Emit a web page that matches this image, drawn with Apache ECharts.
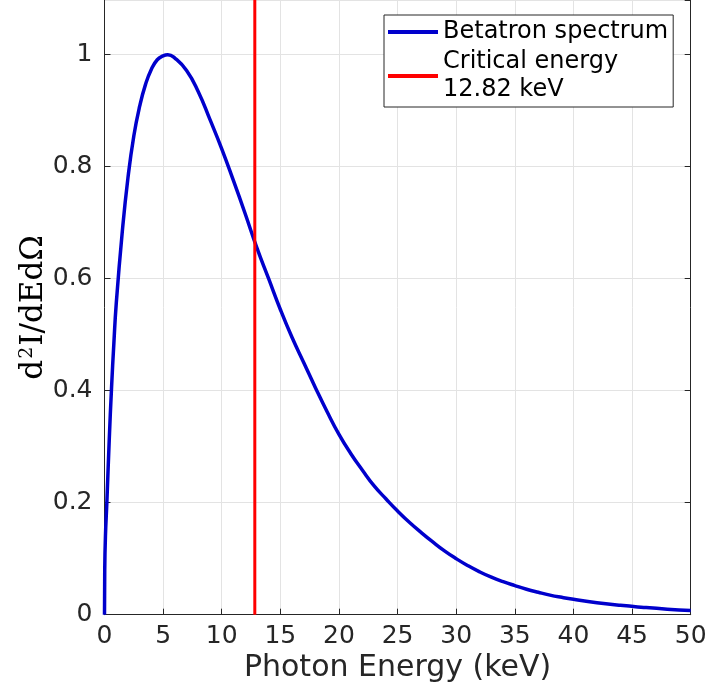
<!DOCTYPE html>
<html>
<head>
<meta charset="utf-8">
<script src="https://cdn.jsdelivr.net/npm/echarts@6/dist/echarts.min.js"></script>
<style>html,body{margin:0;padding:0;background:#fff;}#c{width:710px;height:699px;}</style>
</head>
<body>
<div id="c"></div>
<script>
var energy = [0, 0.02, 0.08, 0.2, 0.4, 0.6, 0.8, 1.0, 1.5, 2.0, 2.5, 3.0, 3.5, 4.0, 4.5, 5.0, 5.4, 6, 7, 8, 9, 10, 11, 12, 13, 14, 15, 16, 17, 18, 19, 20, 21, 22, 23, 24, 25, 26, 27, 28, 29, 30, 31, 32, 33, 34, 35, 36, 37, 38, 39, 40, 42, 44, 46, 48, 50];
var intensity = [0, 0.08, 0.14, 0.2, 0.31, 0.405, 0.485, 0.555, 0.68, 0.78, 0.855, 0.908, 0.947, 0.974, 0.991, 0.998, 1.0, 0.994, 0.972, 0.934, 0.884, 0.832, 0.775, 0.716, 0.655, 0.6, 0.545, 0.495, 0.45, 0.405, 0.362, 0.322, 0.288, 0.258, 0.23, 0.207, 0.185, 0.165, 0.147, 0.13, 0.114, 0.1, 0.0875, 0.0765, 0.067, 0.059, 0.052, 0.0455, 0.04, 0.035, 0.031, 0.0275, 0.0215, 0.0167, 0.013, 0.0099, 0.0075];
var criticalEnergy = 12.82;
var xTicks = [0, 5, 10, 15, 20, 25, 30, 35, 40, 45, 50];
var yTicks = [0, 0.2, 0.4, 0.6, 0.8, 1];
var yTop = 1.0977;

var spectrum = energy.map(function (e, i) { return [e, intensity[i]]; });
var critLine = [[criticalEnergy, 0], [criticalEnergy, yTop]];

var axisCol = '#262626';
var chart = echarts.init(document.getElementById('c'), null, {renderer: 'canvas'});
chart.setOption({
  animation: false,
  backgroundColor: '#fff',
  grid: {left: 104.5, right: 19.3, top: 0, bottom: 84.3, containLabel: false},
  xAxis: {
    type: 'value', min: 0, max: 50, interval: 5,
    name: 'Photon Energy (keV)', nameLocation: 'middle', nameGap: 39, nameMoveOverlap: false,
    nameTextStyle: {fontFamily: 'DejaVu Sans', fontSize: 30, color: axisCol, verticalAlign: 'top'},
    axisLine: {show: true, lineStyle: {color: axisCol, width: 1}},
    axisTick: {show: true, inside: true, length: 6, lineStyle: {color: axisCol}},
    axisLabel: {fontFamily: 'DejaVu Sans', fontSize: 25, color: axisCol, margin: 9,
      formatter: function (v) { return xTicks.indexOf(v) >= 0 ? String(v) : ''; }},
    splitLine: {show: true, lineStyle: {color: '#e3e3e3', width: 1}}
  },
  yAxis: [{
    type: 'value', min: 0, max: yTop, interval: 0.2,
    name: '{a|d}{s|2}{a|I/dEd\u03A9}', nameLocation: 'middle', nameGap: 71, nameRotate: 90, nameMoveOverlap: false,
    nameTextStyle: {
      fontFamily: 'DejaVu Serif', color: '#000', verticalAlign: 'middle', align: 'center',
      rich: {
        a: {fontFamily: 'DejaVu Serif', fontSize: 31, color: '#000'},
        s: {fontFamily: 'DejaVu Serif', fontSize: 19, color: '#000', verticalAlign: 'top', padding: [0, 1, 13, 1]}
      }
    },
    axisLine: {show: true, onZero: false, lineStyle: {color: axisCol, width: 1}},
    axisTick: {show: true, inside: true, length: 6, lineStyle: {color: axisCol}},
    axisLabel: {fontFamily: 'DejaVu Sans', fontSize: 25, color: axisCol, margin: 12, showMaxLabel: false,
      formatter: function (v) {
        for (var i = 0; i < yTicks.length; i++) { if (Math.abs(v - yTicks[i]) < 1e-6) return String(yTicks[i]); }
        return '';
      }},
    splitLine: {show: true, lineStyle: {color: '#e3e3e3', width: 1}}
  }, {
    type: 'value', min: 0, max: yTop, interval: 0.2, position: 'right',
    axisLine: {show: true, onZero: false, lineStyle: {color: axisCol, width: 1}},
    axisTick: {show: true, inside: true, length: 6, lineStyle: {color: axisCol}},
    axisLabel: {show: false},
    splitLine: {show: false}
  }],
  legend: {
    orient: 'vertical', left: 384, top: 15,
    padding: [3, 5, 3, 4], itemGap: 2,
    itemWidth: 50, itemHeight: 4, icon: 'rect',
    borderColor: axisCol, borderWidth: 1, backgroundColor: '#fff',
    textStyle: {fontFamily: 'DejaVu Sans', fontSize: 24, color: '#000', lineHeight: 28},
    data: ['Betatron spectrum', 'Critical energy\n12.82 keV']
  },
  series: [{
    name: 'Betatron spectrum', type: 'line', data: spectrum, smooth: 0.5,
    showSymbol: false, symbol: 'none', color: '#0000cc',
    lineStyle: {color: '#0000cc', width: 3.5}, z: 2
  }, {
    name: 'Critical energy\n12.82 keV', type: 'line', data: critLine,
    showSymbol: false, symbol: 'none', color: '#ff0000',
    lineStyle: {color: '#ff0000', width: 3}, z: 3
  }]
});
</script>
</body>
</html>
